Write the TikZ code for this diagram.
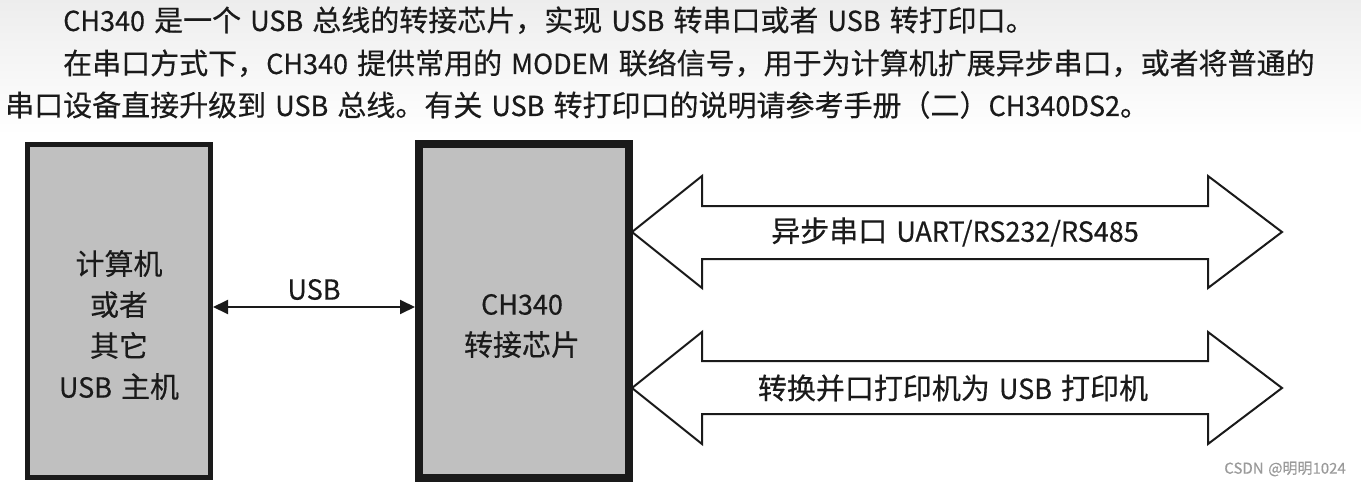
\documentclass[tikz,border=0pt]{standalone}
\usepackage{fontspec}
\setmainfont{Noto Sans CJK SC}[WordSpace=1.4, FakeBold=0.4]
\newfontfamily\latfont{Noto Sans CJK SC}[Scale=0.95, FakeStretch=0.98, FakeBold=0.4]
\newcommand\lat[1]{{\latfont #1}}
\usetikzlibrary{arrows.meta,positioning}
\definecolor{cBox}{HTML}{C0C0C0}
\definecolor{cInk}{HTML}{1A1A1A}
\definecolor{cMark}{HTML}{9A9A9A}
\tikzset{
  hdr/.style    = {anchor=base west, inner sep=0pt, text=cInk,
                   font=\fontsize{29}{29}\selectfont},
  box/.style    = {rectangle, draw=cInk, fill=cBox, inner sep=0pt},
  boxtxt/.style = {align=center, inner sep=0pt, text=cInk,
                   font=\fontsize{29}{41}\selectfont},
  arrtxt/.style = {inner sep=0pt, text=cInk, font=\fontsize{29}{29}\selectfont},
  bus/.style    = {draw=cInk, line width=2pt, line join=miter, fill=white},
  fl/.style     = {{Triangle[length=15pt,width=14pt]}-{Triangle[length=15pt,width=14pt]},
                   draw=cInk, line width=2pt},
  lab/.style    = {inner sep=0pt, text=cInk, font=\fontsize{29}{29}\selectfont},
}

\begin{document}
\begin{tikzpicture}[x=1pt,y=-1pt]
  \useasboundingbox (0,0) rectangle (1361,487);
  \shade[top color=gray!14, bottom color=white] (0,0) rectangle (1361,135);

  % header text
  \node[hdr] (line1) at (63,31) {\lat{CH340} 是一个 \lat{USB} 总线的转接芯片，实现 \lat{USB} 转串口或者 \lat{USB} 转打印口。};
  \node[hdr] (line2) at (63,74) {在串口方式下，\lat{CH340} 提供常用的 \lat{MODEM} 联络信号，用于为计算机扩展异步串口，或者将普通的};
  \node[hdr] (line3) at (5,116) {串口设备直接升级到 \lat{USB} 总线。有关 \lat{USB} 转打印口的说明请参考手册（二）\lat{CH340DS2}。};

  % the two buses
  \draw[bus] (632,232) -- (702,176) -- (702,206) -- (1208,206) -- (1208,176) -- (1282,232)
             -- (1208,288) -- (1208,259) -- (702,259) -- (702,288) -- cycle;
  \draw[bus] (632,388) -- (702,332) -- (702,361) -- (1208,361) -- (1208,332) -- (1282,388)
             -- (1208,444) -- (1208,414) -- (702,414) -- (702,444) -- cycle;
  \node[arrtxt] (uart) at (955,232) {异步串口 \lat{UART/RS232/RS485}};
  \node[arrtxt] (prn)  at (953,388) {转换并口打印机为 \lat{USB} 打印机};

  % blocks
  \node[box, line width=5pt, minimum width=183pt, minimum height=333pt] (host) at (119,311) {};
  \node[box, line width=8pt, minimum width=210pt, minimum height=334pt] (chip) at (524,311) {};
  \node[boxtxt] (hosttxt) at (119,325) {计算机\\或者\\其它\\\lat{USB} 主机};
  \node[boxtxt] (chiptxt) at (522,326) {\lat{CH340}\\转接芯片};

  \draw[fl] ([yshift=4pt]host.east) -- node[lab, above=6pt] (usb) {\lat{USB}} ([yshift=4pt]chip.west);

  \node[anchor=east, inner sep=0pt, text=cMark, font=\fontsize{15}{15}\selectfont] (mark) at (1346,469) {CSDN @明明1024};
\end{tikzpicture}
\end{document}
